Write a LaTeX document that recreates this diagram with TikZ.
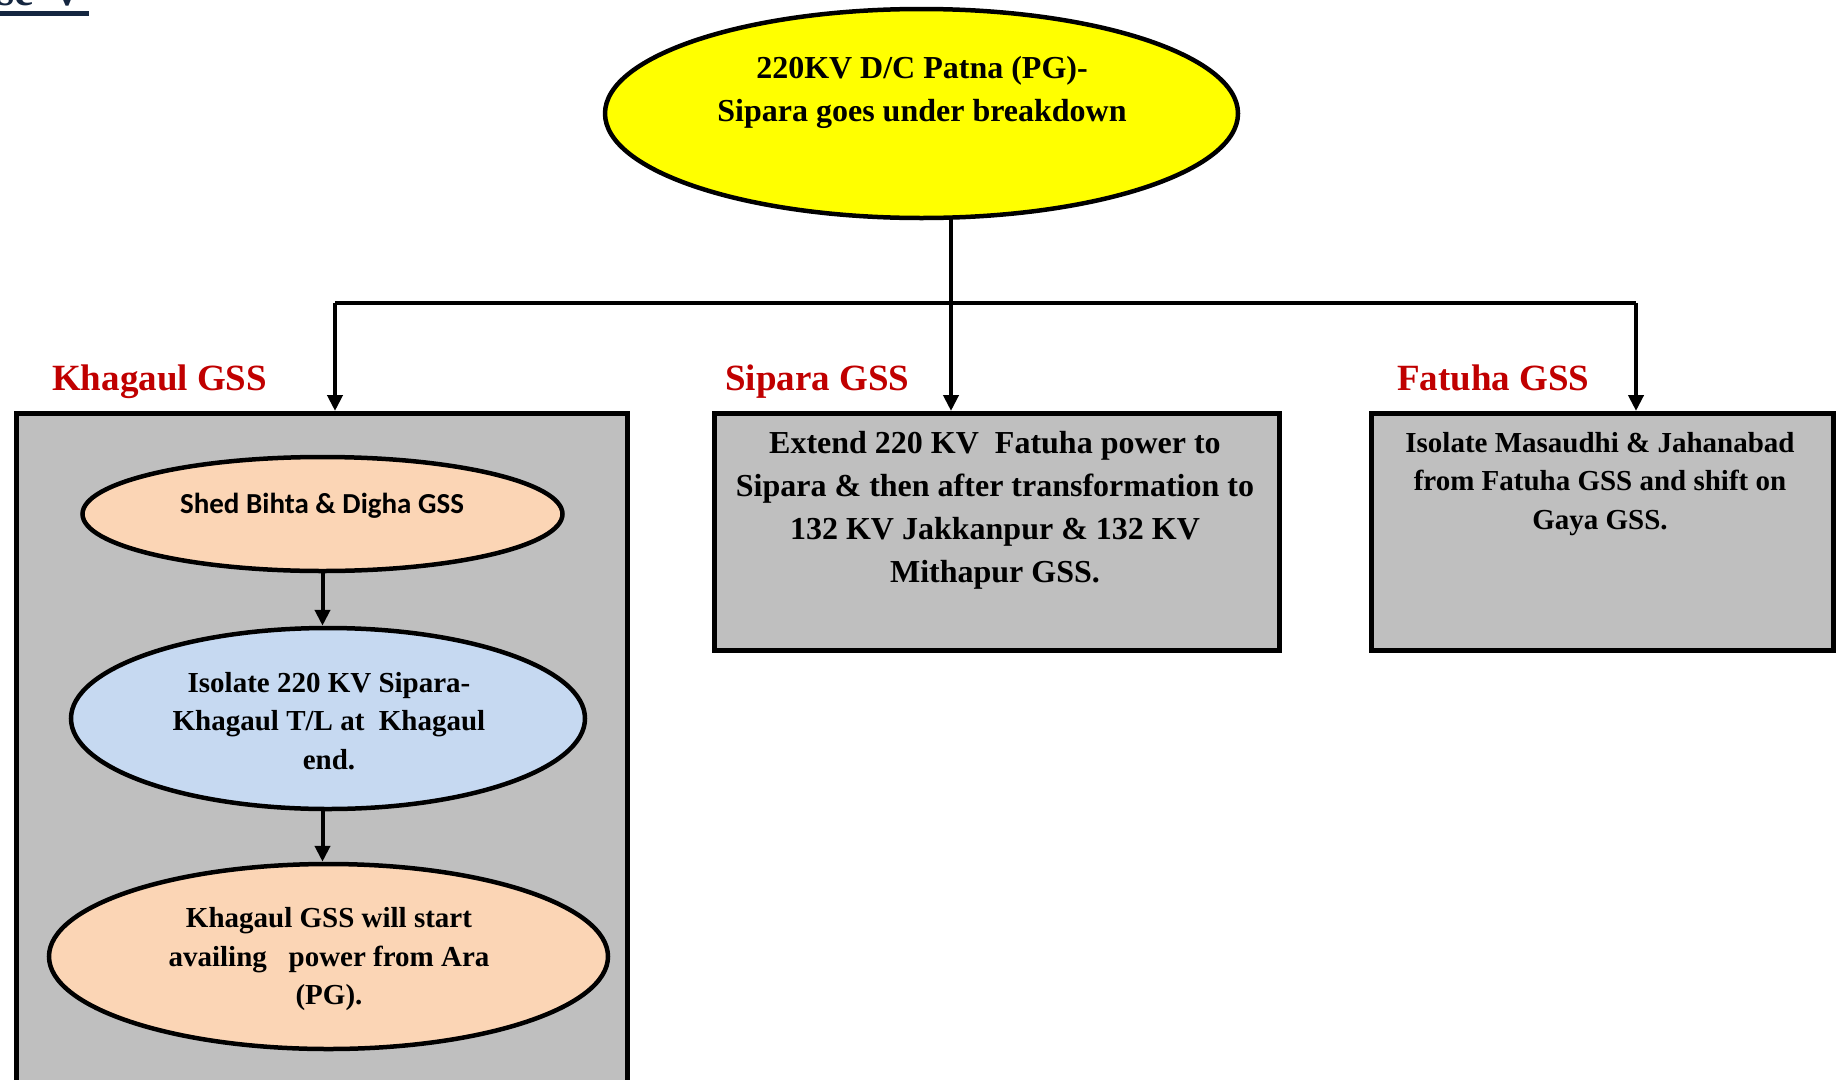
\documentclass[tikz,border=0pt]{standalone}
\usepackage{fontspec}
\setmainfont{Liberation Serif}
\newfontfamily\calibrifont{Carlito}
\usetikzlibrary{shapes.geometric,arrows.meta}
\definecolor{boxgray}{HTML}{BFBFBF}
\definecolor{hdred}{HTML}{C00000}
\definecolor{peach}{HTML}{FBD5B5}
\definecolor{paleblue}{HTML}{C6D9F1}
\definecolor{topyellow}{HTML}{FFFF00}
\definecolor{navy}{HTML}{142640}
\begin{document}
\begin{tikzpicture}[x=1pt,y=-1pt,
  ell/.style={ellipse,draw=black,line width=4.5pt,inner sep=0pt},
  gbox/.style={rectangle,draw=black,line width=4.5pt,fill=boxgray,inner sep=0pt,anchor=north west},
  txt/.style={align=center,font=\bfseries\fontsize{29}{38.5}\selectfont,inner sep=0pt},
  bigtxt/.style={align=center,font=\bfseries\fontsize{32}{43}\selectfont,inner sep=0pt},
  head/.style={font=\bfseries\fontsize{37}{44}\selectfont,text=hdred,anchor=base west,inner sep=0pt},
  conn/.style={line width=4pt,draw=black},
  arr/.style={conn,-{Triangle[width=15pt,length=16pt]}}]
\useasboundingbox (0,0) rectangle (1836,1079);

% partial heading at top-left
\node[anchor=base west,inner sep=0pt,text=navy,font=\bfseries\fontsize{44}{50}\selectfont] (casehd) at (-3,5) {se\hskip 18pt V};
\draw[navy,line width=4.7pt] (0,13.5) -- (89,13.5);

% top ellipse
\node[ell,fill=topyellow,minimum width=633pt,minimum height=209pt] (top) at (921.5,113.5) {};
\node[bigtxt] (toptxt) at (922,92.5) {220KV D/C Patna (PG)-\\Sipara goes under breakdown};

% boxes
\node[gbox,minimum width=611pt,minimum height=689pt] (khbox) at (14,411) {};
\node[gbox,minimum width=565pt,minimum height=237pt] (sipbox) at (712,411) {};
\node[gbox,minimum width=462pt,minimum height=237pt] (fatbox) at (1369,411) {};

% headings
\node[head] (khhd) at (52,390) {Khagaul GSS};
\node[head] (siphd) at (725,390) {Sipara GSS};
\node[head] (fathd) at (1397,390) {Fatuha GSS};

% box texts
\node[bigtxt] (siptxt) at (995,510.5) {Extend 220 KV\ \ Fatuha power to\\Sipara \& then after transformation to\\132 KV Jakkanpur \& 132 KV\\Mithapur GSS.};
\node[txt] (fattxt) at (1600,484) {Isolate Masaudhi \& Jahanabad\\from Fatuha GSS and shift on\\Gaya GSS.};

% inner ellipses
\node[ell,fill=peach,minimum width=480pt,minimum height=114pt] (e1) at (322.5,514) {};
\node[inner sep=0pt,font=\calibrifont\bfseries\fontsize{29}{35}\selectfont] (e1txt) at (322,505.5) {Shed Bihta \& Digha GSS};
\node[ell,fill=paleblue,minimum width=514pt,minimum height=181pt] (e2) at (328,718.5) {};
\node[txt] (e2txt) at (329,721) {Isolate 220 KV Sipara-\\Khagaul T/L at\ \ Khagaul\\end.};
\node[ell,fill=peach,minimum width=559pt,minimum height=185pt] (e3) at (328.5,956.5) {};
\node[txt] (e3txt) at (329,959.5) {Khagaul GSS will start\\availing\ \ \ power from Ara\\(PG).};

% connectors
\coordinate (hl) at (335,303);
\coordinate (hr) at (1636,303);
\coordinate (jn) at (951,303);
\draw[conn] (hl) -- (hr);
\draw[arr] (hl) -- (khbox.north -| hl);
\draw[arr] (hr) -- (fatbox.north -| hr);
\draw[arr] (top.south -| jn) -- (sipbox.north -| jn);
\draw[arr] (e1.south) -- (e2.north -| e1.south);
\draw[arr] (e2.south -| e1.south) -- (e3.north -| e1.south);
\end{tikzpicture}
\end{document}
